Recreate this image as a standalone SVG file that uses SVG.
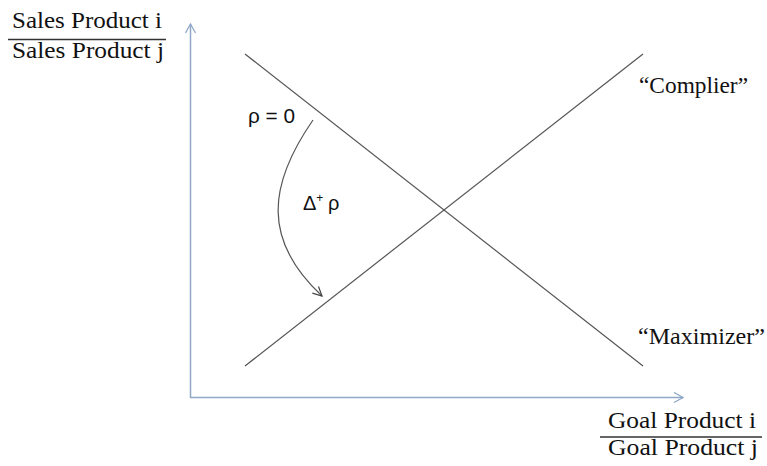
<svg xmlns="http://www.w3.org/2000/svg" width="767" height="466" viewBox="0 0 767 466">
<style>
.serif{font-family:"Liberation Serif","Times New Roman",serif;font-size:23px;fill:#111}
.sans{font-family:"Liberation Sans",Arial,sans-serif;font-size:20px;fill:#111}
.axis{stroke:#8fa8c8;stroke-width:1.5;fill:none}
.line{stroke:#555;stroke-width:1.2;fill:none}
.frac{stroke:#333;stroke-width:1.3}
</style>
<defs>
<marker id="axarrow" markerWidth="12" markerHeight="12" refX="10" refY="6" orient="auto" markerUnits="userSpaceOnUse">
<path d="M1,1 L10,6 L1,11" fill="none" stroke="#8fa8c8" stroke-width="1.3"/>
</marker>
<marker id="curvearrow" markerWidth="12" markerHeight="12" refX="10" refY="6" orient="auto" markerUnits="userSpaceOnUse">
<path d="M1,1.5 L10,6 L1,10.5" fill="none" stroke="#444" stroke-width="1.2"/>
</marker>
</defs>
<rect width="767" height="466" fill="#fff"/>
<g id="connectors">
<line class="axis" x1="190.5" y1="398" x2="190.5" y2="24" marker-end="url(#axarrow)"/>
<line class="axis" x1="190" y1="397.5" x2="683" y2="397.5" marker-end="url(#axarrow)"/>
<line class="line" x1="245" y1="54" x2="643" y2="366"/>
<line class="line" x1="245" y1="366" x2="643" y2="54"/>
<path class="line" d="M313,120 C268,185 262,240 322,296" stroke="#444" marker-end="url(#curvearrow)"/>
</g>
<g id="y-label">
<text class="serif" x="12" y="28" textLength="150" lengthAdjust="spacingAndGlyphs">Sales Product i</text>
<line class="frac" x1="8" y1="39.5" x2="166" y2="39.5"/>
<text class="serif" x="12" y="58" textLength="152" lengthAdjust="spacingAndGlyphs">Sales Product j</text>
</g>
<g id="x-label">
<text class="serif" x="608" y="428" textLength="148" lengthAdjust="spacingAndGlyphs">Goal Product i</text>
<line class="frac" x1="600" y1="437" x2="762" y2="437"/>
<text class="serif" x="608" y="455" textLength="150" lengthAdjust="spacingAndGlyphs">Goal Product j</text>
</g>
<g id="complier">
<text class="serif" x="639" y="93" textLength="109" lengthAdjust="spacingAndGlyphs">“Complier”</text>
</g>
<g id="maximizer">
<text class="serif" x="638" y="344" font-size="24" textLength="127" lengthAdjust="spacingAndGlyphs">“Maximizer”</text>
</g>
<g id="rho0">
<text class="sans" x="248" y="123" textLength="47" lengthAdjust="spacingAndGlyphs">ρ = 0</text>
</g>
<g id="delta-rho">
<text class="sans" x="303" y="210">Δ<tspan font-size="12" dy="-8">+</tspan><tspan x="328" dy="8">ρ</tspan></text>
</g>
</svg>
